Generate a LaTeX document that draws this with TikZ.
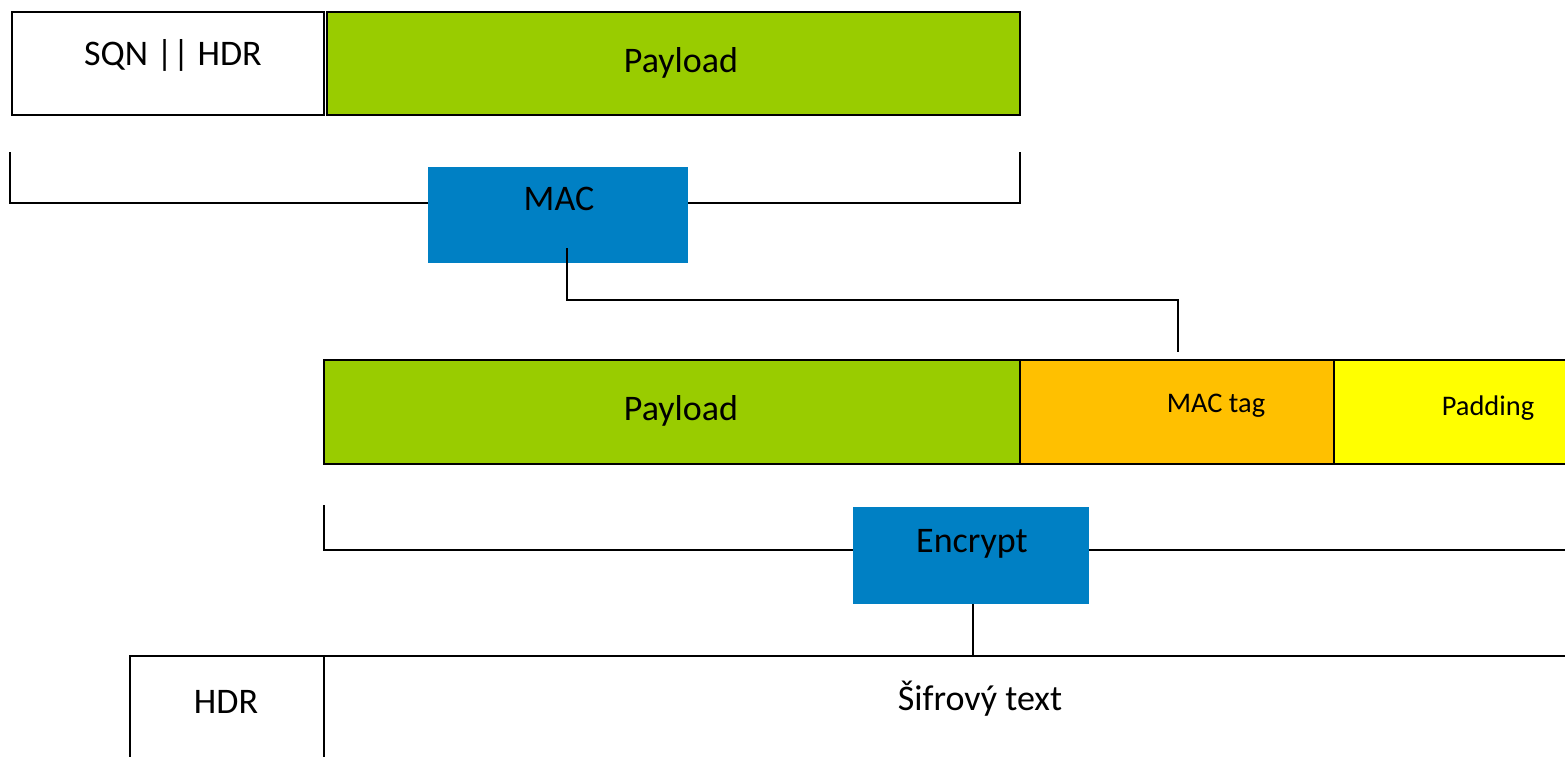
\documentclass[tikz,border=0pt]{standalone}
\usepackage{fontspec}
\setmainfont{Carlito}
\usetikzlibrary{fit}
\definecolor{pgreen}{RGB}{153,204,0}
\definecolor{porange}{RGB}{255,192,0}
\definecolor{pyellow}{RGB}{255,255,0}
\definecolor{pblue}{RGB}{0,128,196}
\begin{document}
\begin{tikzpicture}[x=0.5pt,y=-0.5pt,
  field/.style={draw=black,line width=1.1pt,inner sep=0pt},
  op/.style={fill=pblue,inner sep=0pt},
  big/.style={font=\fontsize{18}{20}\selectfont,anchor=base,inner sep=0pt},
  small/.style={font=\fontsize{14.2}{16}\selectfont,anchor=base,inner sep=0pt},
  wire/.style={draw=black,line width=1.1pt}]
\useasboundingbox (0,0) rectangle (1565,756);
\clip (0,0) rectangle (1565,756);
% top row
\node[field,fit={(12,12) (324,115)}] (sqn) {};
\node[field,fill=pgreen,fit={(327,12) (1020,115)}] (pay1) {};
\node[big] (sqnt) at (173,65) {SQN || HDR};
\node[big] (pay1t) at (681,72) {Payload};
% MAC bracket
\coordinate (b1a) at (10,152);
\coordinate (b1b) at (1020,152);
\draw[wire] (b1a) -- (10,203) -- (1020,203) -- (b1b);
\node[op,fit={(428,167) (688,263)}] (mac) {};
\node[big] (mact) at (559,210) {MAC};
% middle row
\node[field,fill=pgreen,fit={(324,360) (1020,464)}] (pay2) {};
\node[field,fill=porange,fit={(1020,360) (1334,464)}] (tag) {};
\node[field,fill=pyellow,fit={(1334,360) (1600,464)}] (pad) {};
\node[big] (pay2t) at (681,420) {Payload};
\node[small] (tagt) at (1216,412) {MAC tag};
\node[small] (padt) at (1488,415) {Padding};
\coordinate (macout) at (567,248);
\coordinate (tagin) at (1178,352);
\draw[wire] (macout) -- (567,300) -- (1178,300) -- (tagin);
% Encrypt bracket
\coordinate (b2a) at (324,505);
\coordinate (b2b) at (1600,550);
\draw[wire] (b2a) -- (324,550) -- (b2b);
\node[op,fit={(853,507) (1089,604)}] (enc) {};
\node[big] (enct) at (972,552) {Encrypt};
% bottom row
\node[field,fit={(130,656) (324,800)}] (hdr) {};
\node[field,fit={(324,656) (1600,800)}] (ct) {};
\node[big] (hdrt) at (226,713) {HDR};
\node[big] (ctt) at (980,710) {Šifrový text};
\draw[wire] (enc.south -| 973,0) -- (ct.north -| 973,0);
\end{tikzpicture}
\end{document}
